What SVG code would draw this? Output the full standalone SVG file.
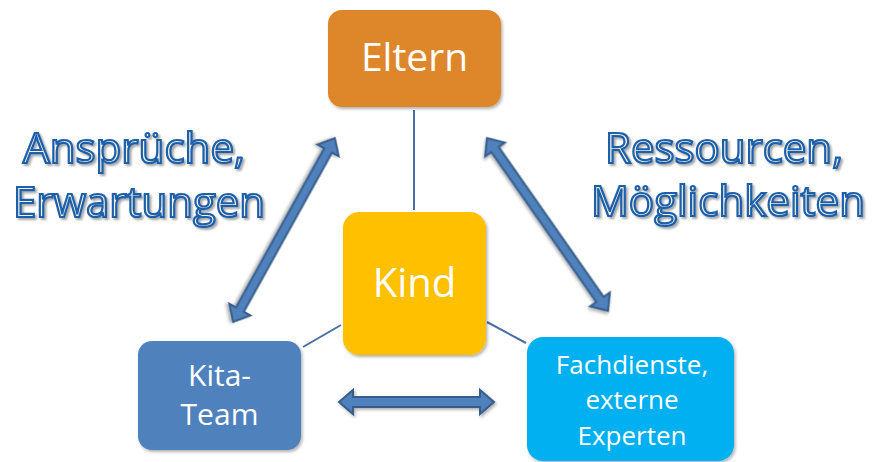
<svg xmlns="http://www.w3.org/2000/svg" width="875" height="462" viewBox="0 0 875 462">
<defs>
<filter id="sh" x="-10%" y="-10%" width="130%" height="130%">
<feDropShadow dx="1.5" dy="2" stdDeviation="1.5" flood-color="#000" flood-opacity="0.3"/>
</filter>
<filter id="tsh" x="-10%" y="-20%" width="130%" height="150%">
<feDropShadow dx="2" dy="2" stdDeviation="1.2" flood-color="#000" flood-opacity="0.35"/>
</filter>
</defs>
<style>
.node text{font-family:"Open Sans","Noto Sans",sans-serif;fill:#fff;text-anchor:middle}
.big{font-family:"Open Sans","Noto Sans",sans-serif;font-size:42px;fill:#F4F2E6;stroke:#1E5FAA;stroke-width:2.2;text-anchor:middle;filter:url(#tsh)}
.ln{stroke:#4A6FA5;stroke-width:2;fill:none}
.ba{fill:#4F81BD;stroke:#385D8A;stroke-width:2;stroke-linejoin:miter;filter:url(#sh)}
</style>
<rect width="875" height="462" fill="#fff"/>
<g id="connectors">
<line class="ln" x1="414" y1="110" x2="414" y2="210"/>
<line class="ln" x1="341" y1="325" x2="303" y2="347"/>
<line class="ln" x1="487" y1="322" x2="526" y2="343"/>
<polygon class="ba" transform="translate(284,230) rotate(119)" points="-105,0 -91,-12 -91,-4.5 91,-4.5 91,-12 105,0 91,12 91,4.5 -91,4.5 -91,12"/>
<polygon class="ba" transform="translate(547.5,224.5) rotate(55)" points="-105.5,0 -91.5,-12 -91.5,-4.5 91.5,-4.5 91.5,-12 105.5,0 91.5,12 91.5,4.5 -91.5,4.5 -91.5,12"/>
<polygon class="ba" transform="translate(416.5,402)" points="-77.5,0 -63.5,-12 -63.5,-5 63.5,-5 63.5,-12 77.5,0 63.5,12 63.5,5 -63.5,5 -63.5,12"/>
</g>
<g id="eltern" class="node">
<rect x="328" y="10" width="173" height="97" rx="14" fill="#DE8629" filter="url(#sh)"/>
<text x="414.5" y="71" font-size="39">Eltern</text>
</g>
<g id="kind" class="node">
<rect x="343" y="212" width="143" height="143" rx="16" fill="#FFC000" filter="url(#sh)"/>
<text x="414.5" y="297" font-size="40">Kind</text>
</g>
<g id="kita" class="node">
<rect x="138" y="341" width="163" height="109" rx="14" fill="#4F81BD" filter="url(#sh)"/>
<text x="219.5" y="386" font-size="30">Kita-</text>
<text x="219.5" y="425" font-size="30">Team</text>
</g>
<g id="fachdienste" class="node">
<rect x="527" y="337" width="207" height="124" rx="16" fill="#00B0F0" filter="url(#sh)"/>
<text x="632" y="374" font-size="26">Fachdienste,</text>
<text x="632" y="409" font-size="26">externe</text>
<text x="632" y="445" font-size="26">Experten</text>
</g>
<g id="labels">
<text class="big" x="134" y="163" textLength="222" lengthAdjust="spacingAndGlyphs">Ansprüche,</text>
<text class="big" x="139" y="217" textLength="252" lengthAdjust="spacingAndGlyphs">Erwartungen</text>
<text class="big" x="724" y="163" textLength="238" lengthAdjust="spacingAndGlyphs">Ressourcen,</text>
<text class="big" x="728" y="216" textLength="274" lengthAdjust="spacingAndGlyphs">Möglichkeiten</text>
</g>
</svg>
